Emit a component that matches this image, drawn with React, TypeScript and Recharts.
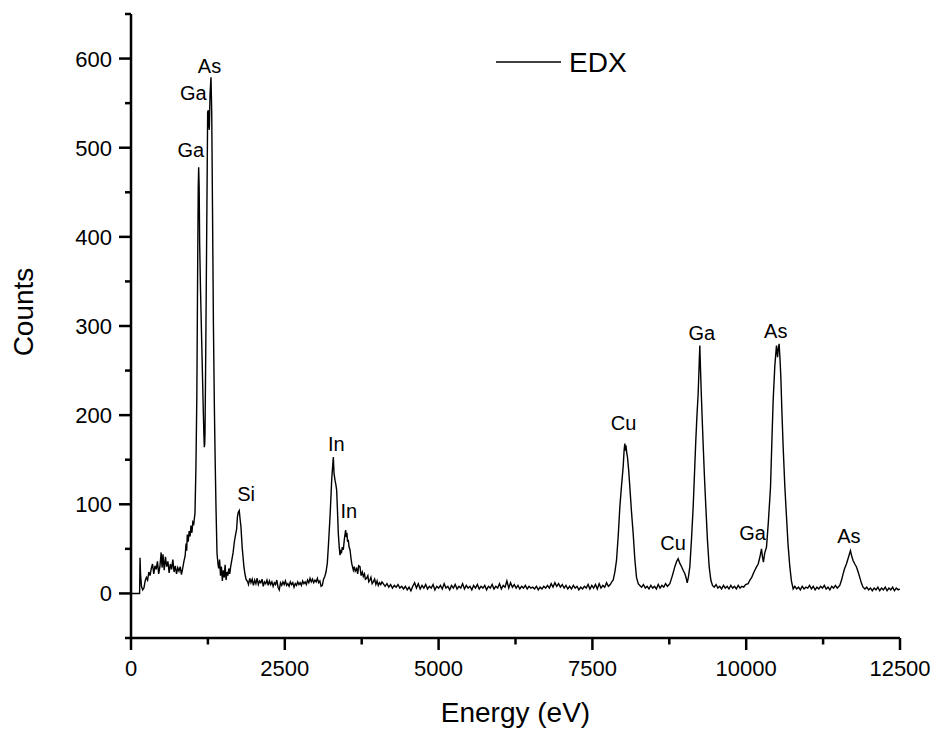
import { Label, Legend, Line, LineChart, ReferenceDot, XAxis, YAxis } from 'recharts'

// energy (eV), counts, region by region
const lowEnergy: [number, number][] = [
  [0, 0], [140, 0], [147, 40], [155, 22], [170, 8], [190, 4], [210, 6], [230, 14], [250, 18],
  [270, 15], [290, 24], [310, 20], [330, 28], [350, 33], [370, 22], [390, 31], [410, 27],
  [430, 36], [450, 22], [470, 30], [490, 46], [505, 29], [520, 44], [540, 26], [560, 41],
  [580, 30], [600, 36], [620, 23], [640, 33], [660, 27], [680, 38], [700, 24], [720, 31],
  [740, 22], [760, 29], [780, 25], [800, 30], [820, 21], [840, 28], [860, 36], [880, 42],
  [895, 56], [905, 48], [915, 66], [930, 58], [945, 70], [960, 64], [975, 76], [990, 68],
  [1005, 80], [1020, 78], [1040, 90]
]

const gaAsLow: [number, number][] = [
  [1055, 140], [1070, 220], [1085, 380], [1093, 455], [1100, 478], [1108, 455], [1116, 393],
  [1130, 340], [1145, 295], [1160, 250], [1175, 205], [1185, 178], [1192, 164], [1198, 168],
  [1203, 180], [1215, 270], [1230, 400], [1246, 540], [1257, 542], [1265, 525], [1273, 520],
  [1285, 560], [1300, 579], [1312, 540], [1325, 430], [1340, 300], [1355, 210], [1368, 150],
  [1382, 95], [1398, 45], [1414, 33], [1425, 28], [1440, 38], [1455, 20], [1470, 30],
  [1485, 14], [1500, 26], [1515, 18], [1530, 32], [1545, 15], [1560, 24], [1575, 20],
  [1590, 28], [1605, 22], [1620, 30], [1640, 38], [1660, 46], [1680, 58], [1700, 66],
  [1717, 72], [1730, 86], [1744, 91], [1760, 93], [1772, 84], [1787, 75], [1800, 60],
  [1809, 50], [1820, 42], [1835, 30], [1852, 22], [1870, 16], [1896, 13]
]

const siToIn: [number, number][] = [
  [1910, 10], [1930, 17], [1950, 12], [1970, 16], [1990, 9], [2010, 15], [2030, 11], [2050, 17],
  [2070, 10], [2090, 14], [2110, 12], [2130, 16], [2150, 8], [2170, 13], [2190, 11], [2210, 15],
  [2230, 9], [2250, 14], [2270, 10], [2290, 13], [2310, 8], [2330, 12], [2350, 10], [2370, 15],
  [2390, 7], [2410, 4], [2430, 12], [2450, 9], [2470, 13], [2490, 10], [2510, 14], [2530, 9],
  [2550, 11], [2570, 8], [2590, 13], [2610, 10], [2630, 12], [2650, 7], [2670, 11], [2690, 9],
  [2710, 13], [2730, 10], [2750, 12], [2770, 9], [2790, 14], [2810, 11], [2830, 13], [2850, 10],
  [2870, 15], [2890, 12], [2910, 17], [2930, 13], [2950, 16], [2970, 12], [2990, 15], [3010, 13],
  [3030, 17], [3050, 12], [3070, 14], [3090, 8], [3110, 9], [3130, 16], [3150, 19], [3170, 24]
]

const inPeaks: [number, number][] = [
  [3191, 34], [3210, 55], [3235, 86], [3250, 108], [3262, 127], [3275, 140], [3289, 153],
  [3300, 135], [3316, 127], [3330, 122], [3343, 116], [3355, 95], [3370, 67], [3385, 52],
  [3397, 43], [3410, 47], [3420, 45], [3435, 52], [3451, 49], [3470, 62], [3489, 71],
  [3500, 63], [3510, 68], [3520, 58], [3532, 60], [3545, 52], [3560, 49], [3575, 40],
  [3587, 34], [3600, 30], [3614, 26], [3630, 30], [3645, 25], [3668, 28], [3685, 22],
  [3700, 31], [3722, 30], [3740, 20], [3760, 24], [3776, 19], [3795, 22], [3810, 16],
  [3830, 17], [3850, 20], [3865, 13], [3884, 15], [3900, 18], [3920, 11], [3938, 13],
  [3960, 16], [3980, 10], [4000, 14], [4020, 9], [4040, 12], [4060, 10], [4080, 13], [4100, 11]
]

const midBaseline: [number, number][] = [
  [4130, 8], [4160, 11], [4190, 7], [4220, 10], [4250, 6], [4280, 9], [4310, 7], [4340, 10],
  [4370, 6], [4400, 8], [4430, 5], [4460, 8], [4490, 4], [4520, 7], [4550, 3], [4580, 8],
  [4610, 12], [4640, 6], [4670, 11], [4700, 5], [4730, 9], [4760, 6], [4790, 10], [4820, 5],
  [4850, 8], [4880, 6], [4910, 10], [4940, 4], [4970, 8], [5000, 6], [5030, 9], [5060, 5],
  [5090, 11], [5120, 6], [5150, 8], [5180, 4], [5210, 9], [5240, 6], [5270, 10], [5300, 5],
  [5330, 8], [5360, 6], [5390, 11], [5420, 5], [5450, 9], [5480, 6], [5510, 8], [5540, 4],
  [5570, 9], [5600, 6], [5630, 10], [5660, 5], [5690, 8], [5720, 6], [5750, 9], [5780, 4],
  [5810, 8], [5840, 6], [5870, 10], [5900, 5], [5930, 8], [5960, 6], [5990, 11], [6020, 5],
  [6050, 9], [6080, 7], [6110, 14], [6140, 6], [6170, 12], [6200, 7], [6230, 10], [6260, 6],
  [6290, 9], [6320, 5], [6350, 8], [6380, 6], [6410, 9], [6440, 5], [6470, 8], [6500, 6],
  [6530, 7], [6560, 5], [6590, 8], [6620, 4], [6650, 7], [6680, 5], [6710, 8], [6740, 6],
  [6770, 9], [6800, 6], [6830, 11], [6860, 7], [6890, 12], [6920, 8], [6950, 11], [6980, 7],
  [7010, 10], [7040, 6], [7070, 9], [7100, 5], [7130, 8], [7160, 5], [7190, 9], [7220, 6],
  [7250, 8], [7280, 4], [7310, 7], [7340, 5], [7370, 8], [7400, 6], [7430, 10], [7460, 5],
  [7490, 9], [7520, 6], [7550, 10], [7580, 5], [7610, 11], [7640, 6], [7670, 9], [7700, 7],
  [7730, 12], [7760, 8], [7790, 10], [7815, 13]
]

const cuGa: [number, number][] = [
  [7838, 15], [7865, 24], [7892, 37], [7920, 65], [7946, 97], [7975, 122], [8000, 142],
  [8015, 160], [8027, 168], [8036, 160], [8045, 166], [8058, 158], [8070, 153], [8090, 138],
  [8109, 119], [8135, 92], [8163, 67], [8190, 38], [8217, 18], [8245, 11], [8271, 9],
  [8300, 7], [8330, 10], [8360, 6], [8390, 8], [8420, 5], [8450, 9], [8480, 6], [8510, 8],
  [8540, 5], [8570, 10], [8600, 6], [8630, 9], [8660, 7], [8690, 11], [8720, 8], [8759, 11],
  [8800, 20], [8840, 30], [8870, 36], [8894, 39], [8920, 34], [8950, 30], [8975, 26],
  [9003, 22], [9025, 17], [9041, 12], [9060, 18], [9084, 30], [9110, 60], [9138, 97],
  [9160, 135], [9181, 172], [9200, 200], [9219, 224], [9232, 250], [9246, 278], [9258, 250],
  [9270, 224], [9285, 195], [9300, 168], [9322, 130], [9344, 97], [9370, 60], [9398, 30],
  [9425, 15], [9452, 9], [9480, 7], [9510, 10], [9540, 6], [9570, 8], [9600, 5], [9630, 9],
  [9660, 6], [9690, 8], [9720, 5], [9750, 9], [9780, 6], [9810, 8], [9840, 5], [9870, 9],
  [9900, 6], [9930, 8], [9960, 7], [9990, 10], [10032, 11]
]

const gaAsHigh: [number, number][] = [
  [10060, 15], [10090, 18], [10114, 22], [10140, 26], [10170, 30], [10195, 33], [10220, 40],
  [10249, 50], [10262, 42], [10280, 35], [10300, 45], [10330, 52], [10360, 80], [10395, 119],
  [10415, 165], [10438, 216], [10465, 255], [10492, 278], [10510, 265], [10522, 275],
  [10535, 280], [10548, 265], [10563, 243], [10580, 205], [10601, 164], [10628, 120],
  [10655, 86], [10680, 55], [10709, 30], [10735, 14], [10763, 5], [10790, 8], [10820, 5],
  [10850, 7], [10880, 4], [10910, 8], [10940, 5], [10970, 7], [11000, 6], [11030, 9],
  [11060, 5], [11090, 8], [11120, 4], [11150, 7], [11180, 5], [11210, 8], [11240, 6],
  [11270, 9], [11300, 5], [11330, 7], [11360, 4], [11390, 8], [11420, 6], [11450, 9],
  [11480, 6], [11521, 9], [11550, 15], [11575, 22], [11600, 28], [11629, 33], [11660, 40],
  [11694, 48], [11715, 42], [11737, 37], [11765, 33], [11791, 30], [11820, 24], [11846, 18],
  [11875, 11], [11900, 7], [11930, 5], [11960, 7], [11990, 4], [12020, 6], [12050, 3],
  [12080, 6], [12110, 4], [12140, 7], [12170, 3], [12200, 6], [12230, 4], [12260, 7],
  [12290, 3], [12320, 6], [12350, 4], [12380, 7], [12410, 3], [12440, 6], [12470, 4], [12496, 5]
]

const peakLabels = [
  { name: 'Ga', energy: 972, counts: 498 },
  { name: 'Ga', energy: 1013, counts: 561 },
  { name: 'As', energy: 1276, counts: 592 },
  { name: 'Si', energy: 1872, counts: 112 },
  { name: 'In', energy: 3337, counts: 168 },
  { name: 'In', energy: 3541, counts: 93 },
  { name: 'Cu', energy: 8006, counts: 191 },
  { name: 'Cu', energy: 8810, counts: 57 },
  { name: 'Ga', energy: 9280, counts: 292 },
  { name: 'Ga', energy: 10104, counts: 68 },
  { name: 'As', energy: 10480, counts: 294 },
  { name: 'As', energy: 11668, counts: 65 }
]

const xTicks = [0, 1250, 2500, 3750, 5000, 6250, 7500, 8750, 10000, 11250, 12500]
const yTicks = [-50, 0, 50, 100, 150, 200, 250, 300, 350, 400, 450, 500, 550, 600, 650]

const FONT = '"Liberation Sans", Arial, Helvetica, sans-serif'

const spectrum = [...lowEnergy, ...gaAsLow, ...siToIn, ...inPeaks, ...midBaseline, ...cuGa, ...gaAsHigh]
  .map(([energy, counts]) => ({ energy, counts }))

function XTick({ x, y, payload }: any) {
  const major = payload.value % 2500 === 0
  return (
    <g>
      <line x1={x} x2={x} y1={y} y2={y + (major ? 12 : 6.5)} stroke="#000" strokeWidth={2.5} />
      {major && (
        <text x={x} y={y + 38} textAnchor="middle" fontSize={22} fontFamily={FONT} fill="#000">
          {payload.value}
        </text>
      )}
    </g>
  )
}

function YTick({ x, y, payload }: any) {
  const major = payload.value % 100 === 0
  return (
    <g>
      <line x1={x - (major ? 12 : 6)} x2={x} y1={y} y2={y} stroke="#000" strokeWidth={2.5} />
      {major && (
        <text x={x - 19} y={y + 8} textAnchor="end" fontSize={22} fontFamily={FONT} fill="#000">
          {payload.value}
        </text>
      )}
    </g>
  )
}

function EnergyTitle({ viewBox }: any) {
  const vb = viewBox || { x: 131, y: 638, width: 769 }
  return (
    <text x={vb.x + vb.width / 2} y={vb.y + 84} textAnchor="middle" fontSize={28} fontFamily={FONT} fill="#000">
      Energy (eV)
    </text>
  )
}

function CountsTitle() {
  return (
    <text x={33} y={312} transform="rotate(-90 33 312)" textAnchor="middle" fontSize={28} fontFamily={FONT} fill="#000">
      Counts
    </text>
  )
}

function EdxLegend({ payload }: any) {
  const item = payload && payload[0]
  return (
    <svg width={150} height={45} style={{ display: 'block' }}>
      <line x1={6} x2={71} y1={22} y2={22} stroke="#000" strokeWidth={1.4} />
      <text x={79} y={32} fontSize={28} fontFamily={FONT} fill="#000">
        {item ? item.value : 'EDX'}
      </text>
    </svg>
  )
}

export default function App() {
  return (
    <div style={{ position: 'absolute', left: 0, top: 0, width: 934, height: 729, background: '#fff' }}>
      <LineChart width={934} height={729} data={spectrum} margin={{ top: 14, right: 34, bottom: 0, left: 0 }}>
        <XAxis
          dataKey="energy"
          type="number"
          domain={[0, 12500]}
          ticks={xTicks}
          interval={0}
          tickSize={0}
          tickMargin={0}
          tickLine={false}
          tick={<XTick />}
          axisLine={{ stroke: '#000', strokeWidth: 2.5 }}
          height={91}
          allowDataOverflow
        >
          <Label content={<EnergyTitle />} />
        </XAxis>
        <YAxis
          type="number"
          domain={[-50, 650]}
          ticks={yTicks}
          interval={0}
          tickSize={0}
          tickMargin={0}
          tickLine={false}
          tick={<YTick />}
          axisLine={{ stroke: '#000', strokeWidth: 2.5 }}
          width={131}
          allowDataOverflow
        >
          <Label content={<CountsTitle />} />
        </YAxis>
        <Legend
          layout="horizontal"
          verticalAlign="middle"
          align="center"
          wrapperStyle={{ left: 490, top: 40, width: 150, height: 45 }}
          content={<EdxLegend />}
        />
        <Line
          name="EDX"
          type="linear"
          dataKey="counts"
          stroke="#000"
          strokeWidth={1.4}
          dot={false}
          activeDot={false}
          isAnimationActive={false}
        />
        {peakLabels.map((p, i) => (
          <ReferenceDot
            key={i}
            x={p.energy}
            y={p.counts}
            r={0}
            fill="none"
            stroke="none"
            label={{ value: p.name, position: 'center', fontSize: 20, fontFamily: FONT, fill: '#000' }}
          />
        ))}
      </LineChart>
    </div>
  )
}
